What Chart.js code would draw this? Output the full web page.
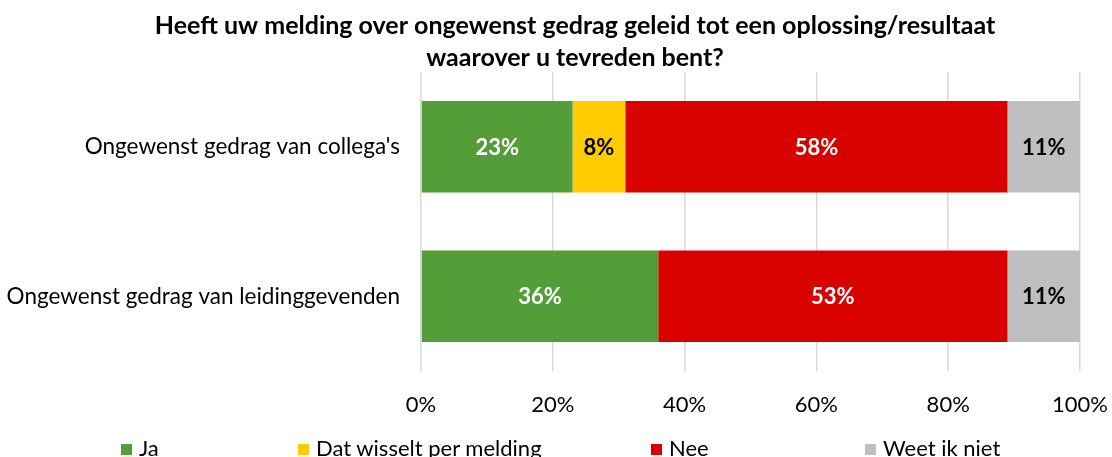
<!DOCTYPE html>
<html>
<head>
<meta charset="utf-8">
<script src="https://cdn.jsdelivr.net/npm/chart.js@4.4.1/dist/chart.umd.min.js"></script>
<style>
  body { margin: 0; background: #fff; }
  #wrap { position: relative; width: 1112px; height: 457px; overflow: hidden; }
  #legend { position: absolute; top: 435px; left: 0; width: 1112px; height: 30px;
            font-family: Lato, sans-serif; font-size: 22px; color: #000; }
  #legend .item { position: absolute; top: 0; white-space: nowrap; line-height: 26px; }
  #legend i { display: inline-block; width: 11px; height: 11px; margin-right: 7px; vertical-align: 1px; }
</style>
</head>
<body>
<div id="wrap">
  <canvas id="myChart" width="1112" height="457"></canvas>
  <div id="legend"></div>
</div>

<script>
  const titleLines = ["Heeft uw melding over ongewenst gedrag geleid tot een oplossing/resultaat", "waarover u tevreden bent?"];
  const categories = ["Ongewenst gedrag van collega's", "Ongewenst gedrag van leidinggevenden"];
  const seriesNames = ["Ja", "Dat wisselt per melding", "Nee", "Weet ik niet"];
  const ja = [23, 36];
  const wisselt = [8, 0];
  const nee = [58, 53];
  const weetNiet = [11, 11];
  const xTicks = [0, 20, 40, 60, 80, 100];

  const colors = ["#549e39", "#ffcc00", "#d90000", "#bfbfbf"];
  const labelColors = ["#ffffff", "#000000", "#ffffff", "#000000"];
  const fontName = "Lato, sans-serif";

  const allValues = [ja, wisselt, nee, weetNiet];

  // percentage text in the middle of every segment
  const valueLabels = {
    id: "valueLabels",
    afterDatasetsDraw(chart) {
      const ctx = chart.ctx;
      ctx.save();
      ctx.font = "bold 22px " + fontName;
      ctx.textAlign = "center";
      ctx.textBaseline = "middle";
      chart.data.datasets.forEach((ds, i) => {
        const meta = chart.getDatasetMeta(i);
        meta.data.forEach((bar, j) => {
          const v = ds.data[j];
          if (!v) return;
          ctx.fillStyle = labelColors[i];
          ctx.fillText(v + "%", (bar.x + bar.base) / 2, bar.y + 1);
        });
      });
      ctx.restore();
    }
  };

  // title sits a bit right of the canvas centre
  const titleShift = {
    id: "titleShift",
    afterLayout(chart) {
      if (chart.titleBlock) chart.titleBlock.left += 70;
    }
  };

  new Chart("myChart", {
    type: "bar",
    data: {
      labels: categories,
      datasets: seriesNames.map((name, i) => ({
        label: name,
        data: allValues[i],
        backgroundColor: colors[i],
        borderWidth: 0,
        barPercentage: 0.613,
        categoryPercentage: 1
      }))
    },
    plugins: [valueLabels, titleShift],
    options: {
      indexAxis: "y",
      responsive: false,
      animation: false,
      layout: { padding: { left: 0, right: 32, top: 0, bottom: 20 } },
      plugins: {
        legend: { display: false },
        tooltip: { enabled: false },
        title: {
          display: true,
          text: titleLines,
          color: "#000",
          font: { family: fontName, size: 25, weight: "bold", lineHeight: 32 / 25 },
          padding: { top: 10, bottom: -2 }
        }
      },
      scales: {
        x: {
          stacked: true,
          min: 0,
          max: 100,
          afterBuildTicks(scale) {
            scale.ticks = xTicks.map(v => ({ value: v }));
          },
          afterFit(scale) {
            scale.height = 66;
            scale.paddingLeft = 0;
            scale.paddingRight = 0;
          },
          grid: { color: "#d9d9d9", lineWidth: 1.5, drawTicks: false },
          border: { display: false },
          ticks: {
            padding: 21,
            color: "#000",
            font: { family: fontName, size: 22 },
            callback: v => v + "%"
          }
        },
        y: {
          stacked: true,
          afterFit(scale) {
            scale.width = 421;
            scale.paddingTop = 0;
            scale.paddingBottom = 0;
          },
          grid: { display: false, drawTicks: false },
          border: { display: false },
          ticks: {
            padding: 21,
            color: "#000",
            font: { family: fontName, size: 22.5 }
          }
        }
      }
    }
  });

  // legend below the chart, items in fixed columns
  const legendX = [121, 298, 651, 865];
  const legend = document.getElementById("legend");
  seriesNames.forEach((name, i) => {
    const item = document.createElement("span");
    item.className = "item";
    item.style.left = legendX[i] + "px";
    item.innerHTML = '<i style="background:' + colors[i] + '"></i>' + name;
    legend.appendChild(item);
  });
</script>
</body>
</html>
